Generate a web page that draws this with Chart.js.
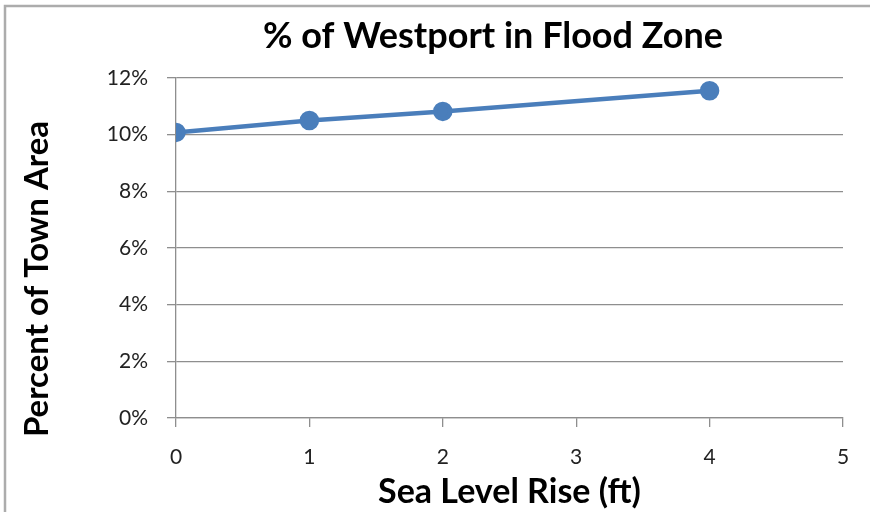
<!DOCTYPE html>
<html>
<head>
<meta charset="utf-8">
<script src="https://cdn.jsdelivr.net/npm/chart.js@4.4.1/dist/chart.umd.min.js"></script>
<style>
  html, body { margin: 0; padding: 0; background: #fff; }
  #wrap { width: 870px; height: 512px; }
</style>
</head>
<body>
<div id="wrap"><canvas id="floodChart" width="870" height="512"></canvas></div>
<script>
// data
const chartTitle = '% of Westport in Flood Zone'
const xTitle = 'Sea Level Rise (ft)'
const yTitle = 'Percent of Town Area'
const seaLevelRise = [0, 1, 2, 4]
const pctFlooded = [10.08, 10.5, 10.82, 11.55]

const blue = '#4a7ebb'
const gridGray = '#8e8e8e'
const font = 'Lato, "Open Sans", sans-serif'

/*========================== frame + titles =============================*/
// the y title sits lower than the plot centre in the original, so it is drawn here
const framePlugin = {
    id: 'frame',
    beforeDraw(chart) {
        const ctx = chart.ctx
        ctx.save()
        ctx.fillStyle = '#fff'
        ctx.fillRect(0, 0, chart.width, chart.height)
        ctx.strokeStyle = '#acacac'
        ctx.lineWidth = 2.5
        ctx.beginPath()
        ctx.moveTo(5, chart.height)
        ctx.lineTo(5, 6)
        ctx.lineTo(chart.width, 6)
        ctx.stroke()
        ctx.restore()
    },
    afterDraw(chart) {
        const ctx = chart.ctx
        ctx.save()
        ctx.fillStyle = '#000'
        ctx.textAlign = 'center'
        ctx.textBaseline = 'middle'
        ctx.font = 'bold 36px ' + font
        ctx.fillText(chartTitle, 493, 36)
        ctx.translate(37, 279)
        ctx.rotate(-Math.PI / 2)
        ctx.font = 'bold 33px ' + font
        ctx.fillText(yTitle, 0, 0)
        ctx.restore()
    }
}

/*========================== chart =============================*/
const floodData = {
    datasets: [
        {
            label: chartTitle,
            data: seaLevelRise.map((x, i) => ({ x: x, y: pctFlooded[i] })),
            borderColor: blue,
            backgroundColor: blue,
            borderWidth: 4.5,
            pointRadius: 7.5,
            pointHoverRadius: 7.5,
            tension: 0
        }
    ]
}

const floodConfig = {
    type: 'line',
    data: floodData,
    options: {
        responsive: false,
        animation: false,
        layout: { padding: { left: 10, right: 27, top: 78, bottom: 0 } },
        plugins: {
            legend: { display: false },
            title: { display: false },
            tooltip: { enabled: false }
        },
        scales: {
            x: {
                type: 'linear',
                min: 0,
                max: 5,
                ticks: {
                    stepSize: 1,
                    color: '#222',
                    font: { family: font, size: 21 },
                    padding: 18
                },
                grid: {
                    drawOnChartArea: false,
                    drawTicks: true,
                    tickLength: 9,
                    color: gridGray,
                    lineWidth: 1.3
                },
                border: { color: gridGray, width: 1.3 },
                title: {
                    display: true,
                    text: xTitle,
                    color: '#000',
                    font: { family: font, size: 34, weight: 'bold' },
                    padding: { top: 0, bottom: 0 }
                },
                afterFit(scale) { scale.height = 94 }
            },
            y: {
                min: 0,
                max: 12,
                ticks: {
                    stepSize: 2,
                    color: '#222',
                    font: { family: font, size: 21 },
                    padding: 19,
                    callback: v => v + '%'
                },
                grid: {
                    drawTicks: true,
                    tickLength: 9,
                    color: gridGray,
                    lineWidth: 1.3
                },
                border: { color: gridGray, width: 1.3 },
                afterFit(scale) { scale.width = 166 }
            }
        }
    },
    plugins: [framePlugin]
}

const floodChart = new Chart(document.getElementById('floodChart'), floodConfig)
</script>
</body>
</html>
